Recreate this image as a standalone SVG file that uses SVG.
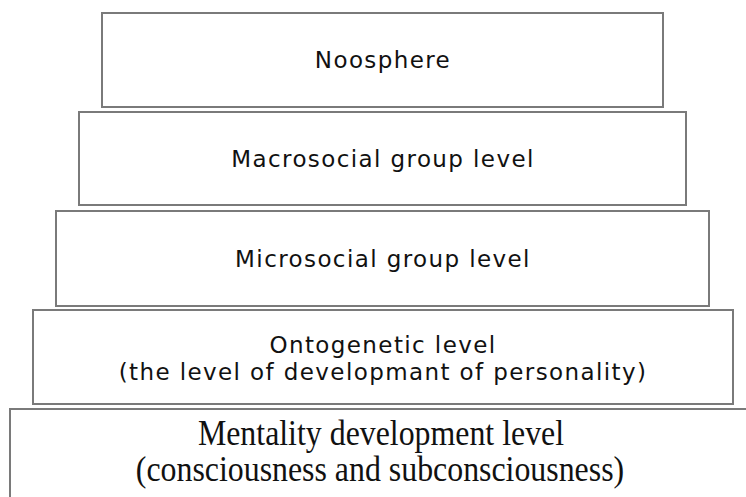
<svg xmlns="http://www.w3.org/2000/svg" width="746" height="497" viewBox="0 0 746 497">
  <style>
    .box { fill: #ffffff; stroke: #7a7a7a; stroke-width: 2; }
    .sans { font-family: "DejaVu Sans", Verdana, sans-serif; font-size: 23px; letter-spacing: 1.4px; fill: #111111; text-anchor: middle; }
    .serif { font-family: "Liberation Serif", "Times New Roman", serif; font-size: 36px; fill: #111111; text-anchor: middle; }
  </style>
  <rect width="746" height="497" fill="#ffffff"/>
  <g id="connectors"/>
  <g id="noosphere">
    <rect class="box" x="102" y="13" width="561" height="94"/>
    <text class="sans" x="383" y="68">Noosphere</text>
  </g>
  <g id="macrosocial">
    <rect class="box" x="79" y="112" width="607" height="93"/>
    <text class="sans" x="383" y="167">Macrosocial group level</text>
  </g>
  <g id="microsocial">
    <rect class="box" x="56" y="211" width="653" height="95"/>
    <text class="sans" x="383" y="267">Microsocial group level</text>
  </g>
  <g id="ontogenetic">
    <rect class="box" x="33" y="310" width="700" height="94"/>
    <text class="sans" x="383" y="353">Ontogenetic level</text>
    <text class="sans" x="383" y="380">(the level of developmant of personality)</text>
  </g>
  <g id="mentality">
    <rect class="box" x="10" y="409" width="750" height="100"/>
    <!-- condensed serif lines -->
    <text class="serif" transform="translate(381,445) scale(0.885,1)">Mentality development level</text>
    <text class="serif" transform="translate(380,481) scale(0.885,1)">(consciousness and subconsciousness)</text>
  </g>
</svg>
